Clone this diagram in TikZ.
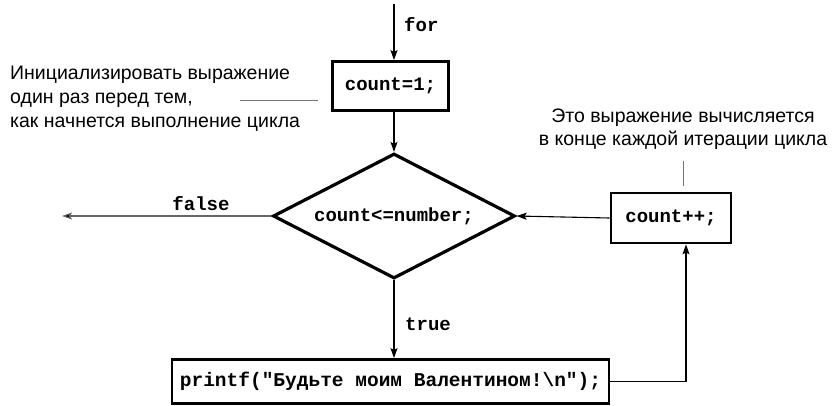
\documentclass[tikz,border=0pt]{standalone}
\usepackage{fontspec}
\setmainfont{Liberation Sans}
\newfontfamily\codefont{Liberation Mono}
\usetikzlibrary{arrows.meta,shapes.geometric}
\begin{document}
\begin{tikzpicture}[x=1pt,y=-1pt,
  code/.style={font=\codefont\bfseries\fontsize{19}{19}\selectfont},
  stepbox/.style={draw, line width=2.8pt, inner sep=0pt, code},
  decision/.style={draw, diamond, line width=3.2pt, inner sep=0pt, aspect=1.94, code},
  conn/.style={line width=1.1pt, -{Stealth[length=10pt,width=7pt,inset=2pt]}},
  grayconn/.style={conn, draw=black!60, -{Stealth[length=10pt,width=7pt,inset=2pt,fill=black]}},
  noteline/.style={line width=0.8pt, draw=black!55},
  note/.style={font=\fontsize{19.5}{24}\selectfont, inner sep=0pt},
  lbl/.style={code, inner sep=0pt},
]
\useasboundingbox (0,0) rectangle (833,405);

% nodes
\node[stepbox, minimum width=116pt, minimum height=49pt] (init) at (390.5,86) {count=1;};
\node[decision, minimum width=242pt, minimum height=125pt] (cond) at (394,216) {count<=number;};
\node[stepbox, minimum width=120pt, minimum height=50pt] (inc) at (671,218) {count++;};
\node[stepbox, minimum width=437pt, minimum height=44pt, font=\codefont\bfseries\fontsize{19.5}{19.5}\selectfont] (body) at (390.5,381.5) {printf("Будьте моим Валентином!\textbackslash n");};

\coordinate (start) at (394,4);
\coordinate (exit) at (62,216);
\coordinate (loopx) at (686,300);

% connectors
\draw[conn] (start) -- (start |- init.north);
\node[lbl, anchor=west] (forlbl) at (404,25) {for};
\draw[conn] (init.south -| cond.north) -- (cond.north);
\draw[grayconn] (cond.west) -- (exit);
\node[lbl] (falselbl) at (201,204) {false};
\draw[conn] (inc.west) -- (cond.east);
\draw[conn] (cond.south) -- (cond.south |- body.north);
\node[lbl, anchor=west] (truelbl) at (405,324) {true};
\draw[conn] (body.east) -| (loopx |- inc.south);

% annotations
\node[note, anchor=north west, align=left] (note1) at (10,65.5)
  {Инициализировать выражение\\один раз перед тем,\\как начнется выполнение цикла};
\coordinate (n1a) at (240,100);
\coordinate (n1b) at (318,100);
\draw[noteline] (n1a) -- (n1b);

\node[note, anchor=north, align=center, font=\fontsize{19.5}{23}\selectfont] (note2) at (683,109)
  {Это выражение вычисляется\\в конце каждой итерации цикла};
\coordinate (n2a) at (683,161);
\coordinate (n2b) at (683,186);
\draw[noteline] (n2a) -- (n2b);
\end{tikzpicture}
\end{document}
